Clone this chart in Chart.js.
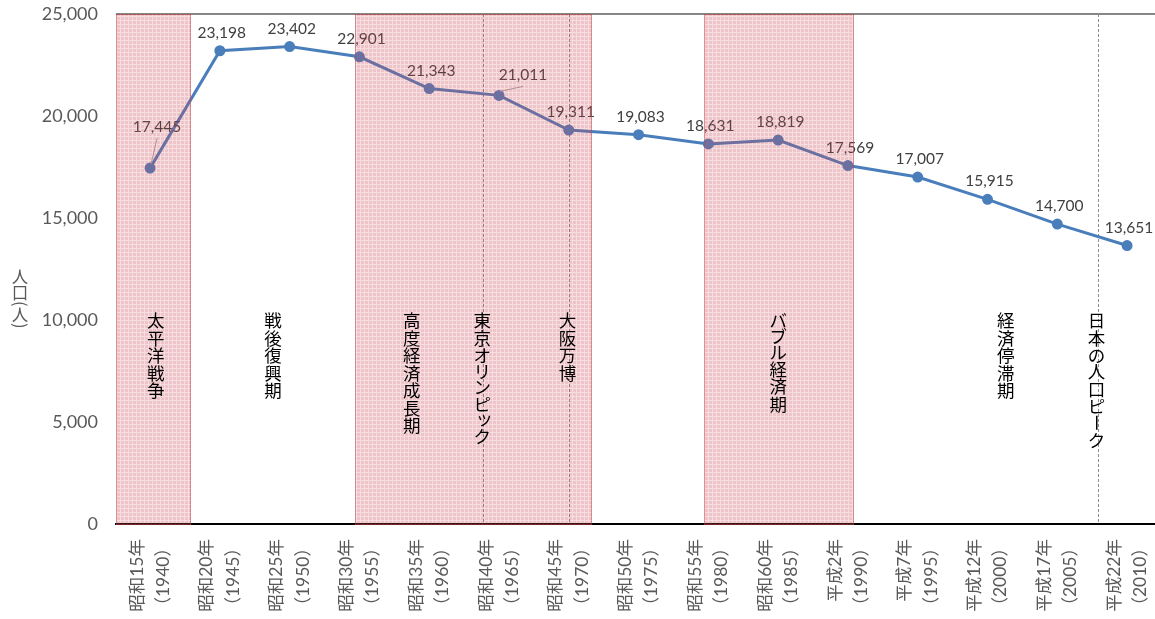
<!DOCTYPE html>
<html lang="ja">
<head>
<meta charset="utf-8">
<title>人口の推移</title>
<script src="https://cdn.jsdelivr.net/npm/chart.js@4.4.1/dist/chart.umd.min.js"></script>
<style>
  html, body { margin: 0; padding: 0; background: #fff; overflow: hidden; }
  #wrap { width: 1155px; height: 619px; position: relative; }
</style>
</head>
<body>
<div id="wrap"><canvas id="popChart"></canvas></div>
<script>
// 人口の推移（国勢調査年ごと）
var years = [1940, 1945, 1950, 1955, 1960, 1965, 1970, 1975, 1980, 1985, 1990, 1995, 2000, 2005, 2010];
var eraNames = ['昭和15年', '昭和20年', '昭和25年', '昭和30年', '昭和35年', '昭和40年', '昭和45年', '昭和50年',
                '昭和55年', '昭和60年', '平成2年', '平成7年', '平成12年', '平成17年', '平成22年'];
var population = [17445, 23198, 23402, 22901, 21343, 21011, 19311, 19083, 18631, 18819, 17569, 17007, 15915, 14700, 13651];
var yTicks = [0, 5000, 10000, 15000, 20000, 25000];

// 時代区分（網掛け）と出来事
var periodStart = [1937.55, 1954.7, 1979.7];
var periodEnd = [1942.9, 1971.65, 1990.45];
var eventYears = [1963.85, 1970, 2007.9];
var eraTexts = ['太平洋戦争', '戦後復興期', '高度経済成長期', '東京オリンピック', '大阪万博', 'バブル経済期', '経済停滞期', '日本の人口ピーク'];
var eraTextYears = [1940.4, 1948.8, 1958.75, 1963.8, 1969.9, 1985.0, 2001.3, 2007.8];

var blue = '#4a7ebb';
var numFont = "Lato, 'Noto Sans CJK JP', sans-serif";
var jpFont = "'Noto Sans CJK JP', sans-serif";

// ラベル位置の手動調整（引き出し線つき）
var labelNudge = { 0: [7, -41], 5: [24, -20] };

function plaid() {
  var c = document.createElement('canvas');
  c.width = 4; c.height = 4;
  var g = c.getContext('2d');
  g.fillStyle = 'rgba(205,70,85,0.32)';
  g.fillRect(1, 1, 3, 3);
  g.fillStyle = 'rgba(205,70,85,0.18)';
  g.fillRect(0, 0, 4, 1);
  g.fillRect(0, 1, 1, 3);
  return c;
}

// 縦書き（1文字ずつ）
function drawVertical(ctx, text, cx, top, size, color) {
  ctx.save();
  ctx.font = size + 'px ' + jpFont;
  ctx.fillStyle = color;
  ctx.textAlign = 'center';
  ctx.textBaseline = 'middle';
  var y = top;
  for (var ch of text) {
    if ('ー()（）'.indexOf(ch) >= 0) {
      var w = ctx.measureText(ch).width;
      ctx.save();
      ctx.translate(cx, y + w / 2);
      ctx.rotate(Math.PI / 2);
      ctx.fillText(ch, 0, 0);
      ctx.restore();
      y += w;
    } else {
      var code = ch.charCodeAt(0);
      var kana = code >= 0x3040 && code <= 0x30ff;
      var small = 'ッャュョァィゥェォ'.indexOf(ch) >= 0;
      ctx.fillText(ch, cx + (small ? size * 0.12 : 0), y + size / 2 - (small ? size * 0.12 : 0));
      y += kana ? size * 0.92 : size;
    }
  }
  ctx.restore();
}

var eraDecor = {
  id: 'eraDecor',
  beforeDatasetsDraw: function (chart) {
    var ctx = chart.ctx, a = chart.chartArea, x = chart.scales.x;
    ctx.save();
    ctx.strokeStyle = '#8c8c8c';
    ctx.lineWidth = 1;
    ctx.setLineDash([3, 2]);
    eventYears.forEach(function (yr) {
      var px = Math.round(x.getPixelForValue(yr)) + 0.5;
      ctx.beginPath();
      ctx.moveTo(px, a.top);
      ctx.lineTo(px, a.bottom);
      ctx.stroke();
    });
    ctx.restore();
  },
  afterDatasetsDraw: function (chart) {
    var ctx = chart.ctx, a = chart.chartArea, x = chart.scales.x, y = chart.scales.y;
    var meta = chart.getDatasetMeta(0);

    // データラベル
    ctx.save();
    ctx.font = '15.5px ' + numFont;
    ctx.fillStyle = '#404040';
    ctx.textAlign = 'center';
    ctx.textBaseline = 'middle';
    meta.data.forEach(function (pt, i) {
      var nd = labelNudge[i] || [2, -18];
      var tx = pt.x + nd[0], ty = pt.y + nd[1];
      if (labelNudge[i]) {
        ctx.strokeStyle = '#a6a6a6';
        ctx.lineWidth = 1;
        ctx.beginPath();
        ctx.moveTo(tx, ty + 11);
        ctx.lineTo(pt.x + 1, pt.y - 4);
        ctx.stroke();
      }
      ctx.fillText(population[i].toLocaleString('en-US'), tx, ty);
    });
    ctx.restore();

    // 網掛け
    ctx.save();
    var pat = ctx.createPattern(plaid(), 'repeat');
    periodStart.forEach(function (s, i) {
      var x0 = Math.round(x.getPixelForValue(s));
      var x1 = Math.round(x.getPixelForValue(periodEnd[i]));
      ctx.fillStyle = pat;
      ctx.fillRect(x0, a.top, x1 - x0, a.bottom - a.top + 1);
      ctx.strokeStyle = 'rgba(190,70,70,0.5)';
      ctx.lineWidth = 1;
      ctx.strokeRect(x0 + 0.5, a.top + 0.5, x1 - x0 - 1, a.bottom - a.top);
    });
    ctx.restore();

    // 時代区分の文字
    var top = y.getPixelForValue(10400);
    eraTexts.forEach(function (t, i) {
      drawVertical(ctx, t, x.getPixelForValue(eraTextYears[i]), top, 17.5, '#000');
    });

    // 軸タイトル
    drawVertical(ctx, '人口(人)', 20, 268, 16.5, '#595959');
  }
};

function noPad(s) {
  s.paddingLeft = 0; s.paddingRight = 0; s.paddingTop = 0; s.paddingBottom = 0;
}

var ctx = document.getElementById('popChart').getContext('2d');
var popChart = new Chart(ctx, {
  type: 'line',
  data: {
    datasets: [{
      data: years.map(function (yr, i) { return { x: yr, y: population[i] }; }),
      borderColor: blue,
      backgroundColor: blue,
      borderWidth: 3,
      pointRadius: 4,
      pointBackgroundColor: blue,
      pointBorderColor: blue,
      tension: 0
    }]
  },
  options: {
    responsive: true,
    maintainAspectRatio: false,
    animation: false,
    layout: { autoPadding: false, padding: { top: 14, left: 0, right: 0, bottom: 0 } },
    plugins: {
      legend: { display: false },
      tooltip: { enabled: false }
    },
    scales: {
      x: {
        type: 'linear',
        min: 1937.56,
        max: 2012.0,
        grid: { display: false, drawTicks: false },
        border: { display: true, color: '#000', width: 2 },
        afterBuildTicks: function (s) {
          s.ticks = years.map(function (v) { return { value: v }; });
        },
        afterFit: function (s) { s.height = 95; noPad(s); },
        ticks: {
          autoSkip: false,
          minRotation: 90,
          maxRotation: 90,
          padding: 15,
          labelOffset: -13,
          color: '#595959',
          font: { family: numFont, size: 17.5, lineHeight: 1.5 },
          callback: function (v) {
            var i = years.indexOf(v);
            return [eraNames[i], '（' + v + '）'];
          }
        }
      },
      y: {
        min: 0,
        max: 25000,
        grid: {
          drawTicks: false,
          lineWidth: 2,
          color: function (c) { return c.tick && c.tick.value === 25000 ? '#868686' : 'rgba(0,0,0,0)'; }
        },
        border: { display: false },
        afterBuildTicks: function (s) {
          s.ticks = yTicks.map(function (v) { return { value: v }; });
        },
        afterFit: function (s) { s.width = 116; noPad(s); },
        ticks: {
          padding: 18,
          color: '#595959',
          font: { family: numFont, size: 18 },
          callback: function (v) { return v.toLocaleString('en-US'); }
        }
      }
    }
  },
  plugins: [eraDecor]
});
</script>
</body>
</html>
